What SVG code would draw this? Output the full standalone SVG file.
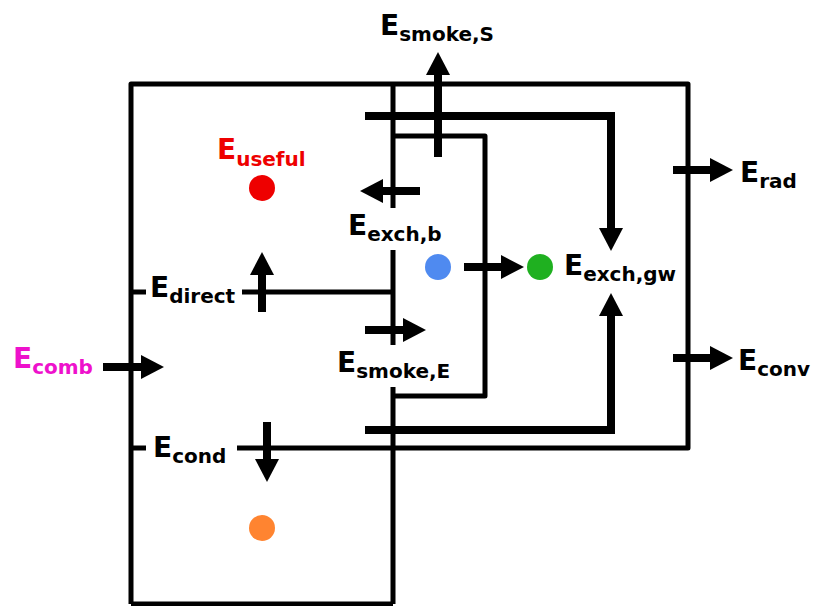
<svg xmlns="http://www.w3.org/2000/svg" width="813" height="606" viewBox="0 0 813 606">
<style>
.thin{fill:none;stroke:#000;stroke-width:5;stroke-linejoin:round}
.thick{fill:none;stroke:#000;stroke-width:8;stroke-linejoin:miter}
.arr{marker-end:url(#ah)}
text{font-family:"DejaVu Sans","Verdana",sans-serif;font-weight:bold;fill:#000}
.b{font-size:28px}
.s{font-size:20px}
</style>
<defs>
<marker id="ah" markerUnits="userSpaceOnUse" markerWidth="24" markerHeight="24" viewBox="0 0 24 24" refX="1" refY="12" orient="auto">
<path d="M0,0 L23,12 L0,24 z" fill="#000"/>
</marker>
</defs>
<g id="frame">
<path class="thin" d="M131,604 V84 H688 V448 H237"/>
<path class="thin" d="M131,448 H146"/>
<path class="thin" d="M131,292 H146 M242,292 H393"/>
<path class="thin" d="M131,604 H393"/>
<path class="thin" d="M393,84 V208 M393,250 V345 M393,387 V604"/>
<path class="thin" d="M393,136 H485 V396 H393"/>
</g>
<g id="connectors">
<path class="thick arr" d="M365,116 H611 V229"/>
<path class="thick arr" d="M365,430 H611 V315"/>
<path class="thick arr" d="M438,157 V74"/>
<path class="thick arr" d="M420,191 H382"/>
<path class="thick arr" d="M262,312 V274"/>
<path class="thick arr" d="M103,367 H142"/>
<path class="thick arr" d="M365,330 H404"/>
<path class="thick arr" d="M464,267 H502"/>
<path class="thick arr" d="M267,422 V460"/>
<path class="thick arr" d="M673,170 H711"/>
<path class="thick arr" d="M673,358 H711"/>
</g>
<g id="useful"><circle cx="262" cy="188" r="13" fill="#ee0000"/><text x="217" y="159" style="fill:#ee0000"><tspan class="b">E</tspan><tspan class="s" dy="7" style="fill:#ee0000">useful</tspan></text></g>
<g id="exch_b_dot"><circle cx="438" cy="267" r="13" fill="#4f8af0"/></g>
<g id="exch_gw"><circle cx="540" cy="267" r="13" fill="#1fb020"/><text x="564" y="275"><tspan class="b">E</tspan><tspan class="s" dy="6">exch,gw</tspan></text></g>
<g id="cond_dot"><circle cx="262" cy="528" r="13" fill="#ff8430"/></g>
<g id="smoke_s"><text x="380" y="35"><tspan class="b">E</tspan><tspan class="s" dy="6">smoke,S</tspan></text></g>
<g id="exch_b"><text x="348" y="235"><tspan class="b">E</tspan><tspan class="s" dy="6">exch,b</tspan></text></g>
<g id="direct"><text x="150" y="297"><tspan class="b">E</tspan><tspan class="s" dy="6">direct</tspan></text></g>
<g id="comb"><text x="13" y="368" style="fill:#ee11cc"><tspan class="b">E</tspan><tspan class="s" dy="6" style="fill:#ee11cc">comb</tspan></text></g>
<g id="smoke_e"><text x="337" y="372"><tspan class="b">E</tspan><tspan class="s" dy="6">smoke,E</tspan></text></g>
<g id="cond"><text x="153" y="457"><tspan class="b">E</tspan><tspan class="s" dy="6">cond</tspan></text></g>
<g id="rad"><text x="740" y="182"><tspan class="b">E</tspan><tspan class="s" dy="6">rad</tspan></text></g>
<g id="conv"><text x="738" y="370"><tspan class="b">E</tspan><tspan class="s" dy="6">conv</tspan></text></g>
</svg>
